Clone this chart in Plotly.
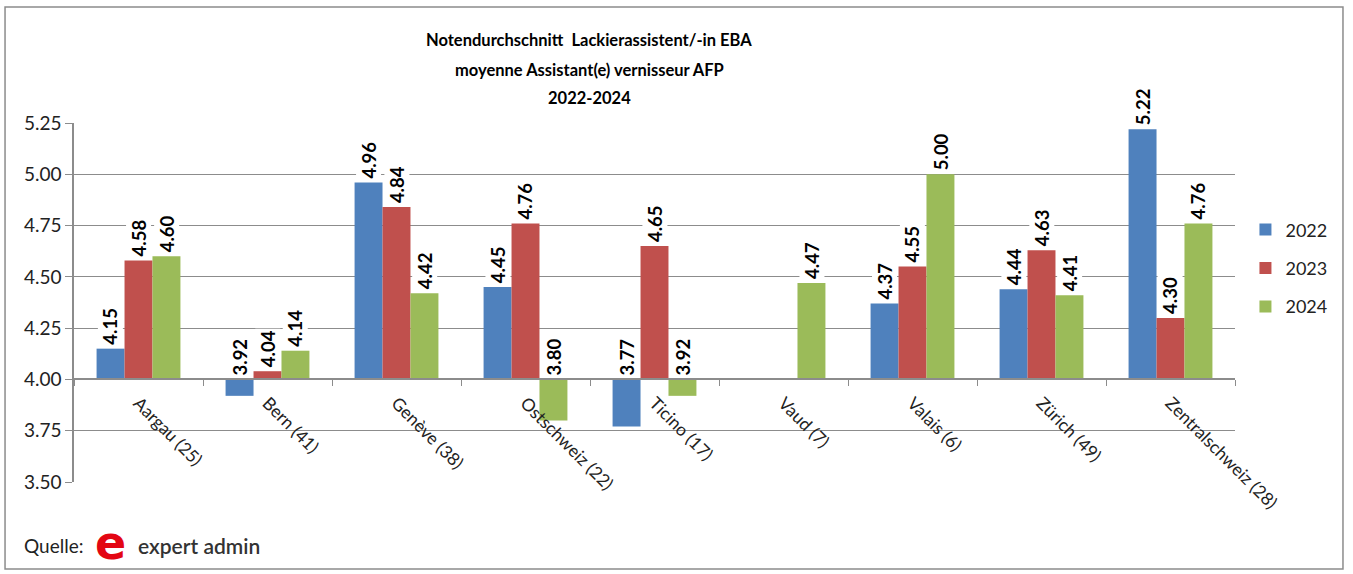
import plotly.graph_objects as go

categories = ["Aargau (25)", "Bern (41)", "Genève (38)", "Ostschweiz (22)", "Ticino (17)",
              "Vaud (7)", "Valais (6)", "Zürich (49)", "Zentralschweiz (28)"]
years = ["2022", "2023", "2024"]
v2022 = [4.15, 3.92, 4.96, 4.45, 3.77, None, 4.37, 4.44, 5.22]
v2023 = [4.58, 4.04, 4.84, 4.76, 4.65, None, 4.55, 4.63, 4.30]
v2024 = [4.60, 4.14, 4.42, 3.80, 3.92, 4.47, 5.00, 4.41, 4.76]
series = [v2022, v2023, v2024]
colors = ["#4f81bd", "#c0504d", "#9bbb59"]
base_value = 4.0
y_ticks = [3.50, 3.75, 4.00, 4.25, 4.50, 4.75, 5.00, 5.25]
title_lines = ["Notendurchschnitt  Lackierassistent/-in EBA",
               "moyenne Assistant(e) vernisseur AFP",
               "2022-2024"]

FONT = "Lato"
y_min, y_max = 3.5, 5.25
bargap = 0.35
bw = (1 - bargap) / 3

fig = go.Figure()
for name, vals, col in zip(years, series, colors):
    fig.add_trace(go.Bar(
        x=categories,
        y=[None if v is None else v - base_value for v in vals],
        base=base_value,
        name=name,
        legendgroup=name,
        marker=dict(color=col, line=dict(width=0)),
        hoverinfo="skip",
    ))

annotations = []
for s, vals in enumerate(series):
    for i, v in enumerate(vals):
        if v is None:
            continue
        annotations.append(dict(
            x=i + (s - 1) * bw, y=max(v, base_value), xref="x", yref="y",
            text=f"{v:.2f}", textangle=-90, showarrow=False,
            xanchor="center", yanchor="bottom", yshift=2,
            bgcolor="white", borderpad=1,
            font=dict(family=FONT, size=18.5, color="black", weight="bold"),
        ))

title_y = [1.231, 1.148, 1.07]
for t, yy in zip(title_lines, title_y):
    annotations.append(dict(
        x=0.444, y=yy, xref="paper", yref="paper", text=t, showarrow=False,
        xanchor="center", yanchor="middle",
        font=dict(family=FONT, size=16.5, color="black", weight="bold"),
    ))

annotations += [
    dict(x=-0.0448, y=-0.178, xref="paper", yref="paper", text="Quelle:", showarrow=False,
         xanchor="left", yanchor="middle", font=dict(family=FONT, size=19, color="#222")),
    dict(x=0.0165, y=-0.17, xref="paper", yref="paper", text="e", showarrow=False,
         xanchor="left", yanchor="middle",
         font=dict(family="DejaVu Sans", size=46, color="#e30613", weight="bold")),
    dict(x=0.0535, y=-0.178, xref="paper", yref="paper", text="expert admin", showarrow=False,
         xanchor="left", yanchor="middle",
         font=dict(family=FONT, size=21, color="#333", weight=600)),
]

y_dom = [0, 1]
x_pos = y_dom[0] + (base_value - y_min) / (y_max - y_min) * (y_dom[1] - y_dom[0])

fig.update_layout(
    width=1353, height=574,
    margin=dict(l=74, r=118, t=123, b=92),
    paper_bgcolor="white", plot_bgcolor="white",
    barmode="group", bargap=bargap, bargroupgap=0,
    font=dict(family=FONT, color="#222"),
    showlegend=True,
    legend=dict(x=1.009, y=0.595, xanchor="left", yanchor="middle",
                font=dict(family=FONT, size=18, color="#222"),
                tracegroupgap=12, bgcolor="rgba(0,0,0,0)"),
    xaxis=dict(
        type="category", categoryorder="array", categoryarray=categories,
        anchor="free", position=x_pos,
        showline=True, linecolor="#8c8c8c", linewidth=1.5,
        ticks="outside", tickson="boundaries", ticklen=6, tickcolor="#8c8c8c",
        tickangle=45, tickfont=dict(family=FONT, size=17.5, color="#222"),
        ticklabelstandoff=6,
        showgrid=False, range=[-0.5, 8.5], fixedrange=True,
    ),
    yaxis=dict(
        range=[y_min, y_max], tickvals=y_ticks, ticktext=[f"{t:.2f}" for t in y_ticks],
        showline=True, linecolor="#8c8c8c", linewidth=1.5,
        ticks="outside", ticklen=7, tickcolor="#8c8c8c",
        showgrid=True, gridcolor="#8c8c8c", gridwidth=1.2,
        tickfont=dict(family=FONT, size=19, color="#222"),
        zeroline=False,
    ),
    annotations=annotations,
    shapes=[dict(type="rect", xref="paper", yref="paper",
                 x0=-0.0594, x1=1.093, y0=-0.242, y1=1.323,
                 line=dict(color="#8c8c8c", width=1.5), layer="below")],
)

fig.write_html("out.html", config={"displayModeBar": False},
               post_script="document.body.style.margin='0px';")
